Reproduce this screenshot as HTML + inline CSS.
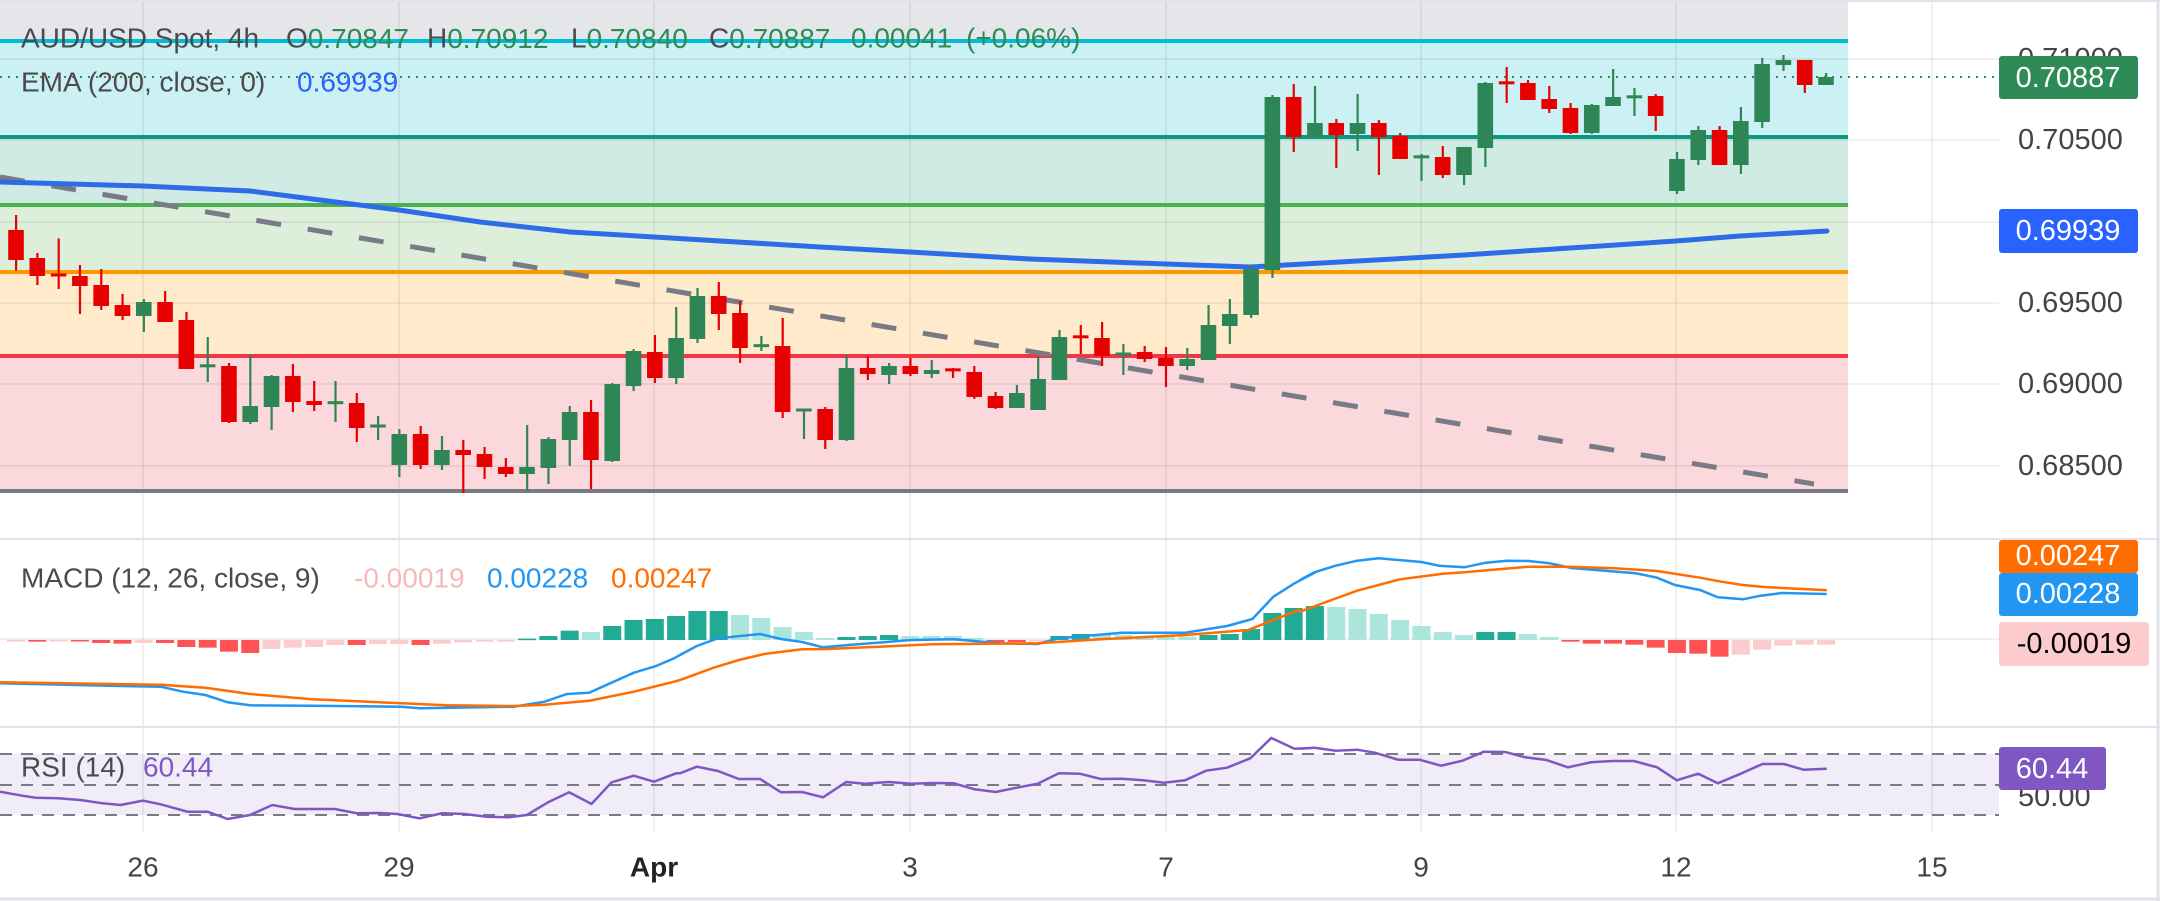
<!DOCTYPE html>
<html><head><meta charset="utf-8">
<style>
html,body{margin:0;padding:0;background:#fff;}
svg{display:block;}
text{font-family:"Liberation Sans",sans-serif;}
</style></head>
<body>
<svg id="c" width="2160" height="901" viewBox="0 0 2160 901" xmlns="http://www.w3.org/2000/svg">
<rect x="0" y="0" width="2160" height="901" fill="#fff"/>
<rect x="0" y="0" width="1848" height="41" fill="#e5e6e9"/>
<rect x="0" y="41" width="1848" height="96" fill="#ccf1f4"/>
<rect x="0" y="137" width="1848" height="68" fill="#d0ebe4"/>
<rect x="0" y="205" width="1848" height="67" fill="#ddefdb"/>
<rect x="0" y="272" width="1848" height="84" fill="#ffebcc"/>
<rect x="0" y="356" width="1848" height="135" fill="#fad8db"/>
<rect x="0" y="754" width="1999" height="61" fill="#f0ecf8"/>
<g id="grid" stroke="rgba(0,0,0,0.06)" stroke-width="2"></g>
<g stroke-width="4">
<line x1="0" y1="41" x2="1848" y2="41" stroke="#00bcd4"/>
<line x1="0" y1="137" x2="1848" y2="137" stroke="#089981"/>
<line x1="0" y1="205" x2="1848" y2="205" stroke="#4caf50"/>
<line x1="0" y1="272" x2="1848" y2="272" stroke="#ff9800"/>
<line x1="0" y1="356" x2="1848" y2="356" stroke="#f23645"/>
<line x1="0" y1="491" x2="1848" y2="491" stroke="#787b86"/>
</g>
<line x1="0" y1="539" x2="2160" y2="539" stroke="#e0e3eb" stroke-width="2"/>
<line x1="0" y1="727" x2="2160" y2="727" stroke="#e0e3eb" stroke-width="2"/>
<line x1="0" y1="899" x2="2160" y2="899" stroke="#e0e3eb" stroke-width="3"/>
<line x1="2158" y1="0" x2="2158" y2="901" stroke="#e0e3eb" stroke-width="3"/>
<line x1="0" y1="1" x2="2160" y2="1" stroke="#e0e3eb" stroke-width="2"/>
<line x1="0" y1="177" x2="1814" y2="484" stroke="#787b86" stroke-width="5" stroke-dasharray="25,27"/>
<polyline fill="none" stroke="#2e6be6" stroke-width="5" stroke-linecap="round" points="0,182 143,186 250,191 320,200 399,210 480,222 570,232 654,237 820,247 910,252 1030,259 1166,264 1250,267 1464,255 1676,241 1740,236 1827,231"/>
<line x1="0" y1="77" x2="1999" y2="77" stroke="#2e8b57" stroke-width="2" stroke-dasharray="2,6"/>
<g id="candles"></g>
<g id="hist"></g>
<polyline id="macdB" fill="none" stroke="#2196f3" stroke-width="2.5"/>
<polyline id="macdO" fill="none" stroke="#ff6d00" stroke-width="2.5"/>
<g stroke="#787b86" stroke-width="2" stroke-dasharray="12,9">
<line x1="0" y1="754" x2="1999" y2="754"/>
<line x1="0" y1="785" x2="1999" y2="785"/>
<line x1="0" y1="815" x2="1999" y2="815"/>
</g>
<polyline id="rsi" fill="none" stroke="#7e57c2" stroke-width="2.5"/>

<g font-size="28" dominant-baseline="central">
<text x="21" y="38" fill="#4a4a4f">AUD/USD Spot, 4h</text>
<text x="286" y="38" fill="#4a4a4f">O<tspan fill="#2e8b57">0.70847</tspan></text>
<text x="427" y="38" fill="#4a4a4f">H<tspan fill="#2e8b57">0.70912</tspan></text>
<text x="571" y="38" fill="#4a4a4f">L<tspan fill="#2e8b57">0.70840</tspan></text>
<text x="709" y="38" fill="#4a4a4f">C<tspan fill="#2e8b57">0.70887</tspan></text>
<text x="851" y="38" fill="#2e8b57">0.00041</text>
<text x="966" y="38" fill="#2e8b57">(+0.06%)</text>
<text x="21" y="82" fill="#4a4a4f">EMA (200, close, 0)</text>
<text x="297" y="82" fill="#2962ff">0.69939</text>
<text x="21" y="578" fill="#4a4a4f">MACD (12, 26, close, 9)</text>
<text x="354" y="578" fill="#f7b8bb">-0.00019</text>
<text x="487" y="578" fill="#2196f3">0.00228</text>
<text x="611" y="578" fill="#ff6d00">0.00247</text>
<text x="21" y="767" fill="#4a4a4f">RSI (14)</text>
<text x="143" y="767" fill="#7e57c2">60.44</text>
</g>
<g font-size="29" fill="#444" dominant-baseline="central">
<text x="2018" y="59">0.71000</text>
<text x="2018" y="140">0.70500</text>
<text x="2018" y="303">0.69500</text>
<text x="2018" y="384">0.69000</text>
<text x="2018" y="466">0.68500</text>
<text x="2018" y="797">50.00</text>
</g>
<g font-size="29" dominant-baseline="central">
<rect x="1999" y="56" width="139" height="43" rx="3" fill="#2e8b57"/>
<text x="2068" y="78" fill="#fff" text-anchor="middle">0.70887</text>
<rect x="1999" y="209" width="139" height="44" rx="3" fill="#2962ff"/>
<text x="2068" y="231" fill="#fff" text-anchor="middle">0.69939</text>
<rect x="1999" y="540" width="139" height="33" rx="3" fill="#ff6d00"/>
<text x="2068" y="556" fill="#fff" text-anchor="middle">0.00247</text>
<rect x="1999" y="573" width="139" height="43" rx="3" fill="#2196f3"/>
<text x="2068" y="594" fill="#fff" text-anchor="middle">0.00228</text>
<rect x="1999" y="622" width="150" height="44" rx="3" fill="#fccbcd"/>
<text x="2074" y="644" fill="#000" text-anchor="middle">-0.00019</text>
<rect x="1999" y="747" width="107" height="43" rx="3" fill="#7e57c2"/>
<text x="2052" y="769" fill="#fff" text-anchor="middle">60.44</text>
</g>
<g font-size="28" fill="#444" dominant-baseline="central" text-anchor="middle">
<text x="143" y="867">26</text>
<text x="399" y="867">29</text>
<text x="654" y="867" font-weight="bold" fill="#222">Apr</text>
<text x="910" y="867">3</text>
<text x="1166" y="867">7</text>
<text x="1421" y="867">9</text>
<text x="1676" y="867">12</text>
<text x="1932" y="867">15</text>
</g>
</svg>
<script>
var NS="http://www.w3.org/2000/svg";
function el(p,t,a){var e=document.createElementNS(NS,t);for(var k in a)e.setAttribute(k,a[k]);p.appendChild(e);return e;}
var g=document.getElementById('grid');
[143,399,654,910,1166,1421,1676,1932].forEach(function(x){el(g,'line',{x1:x,y1:0,x2:x,y2:832});});
[59,140,222,303,384,466].forEach(function(y){el(g,'line',{x1:0,y1:y,x2:1999,y2:y});});
el(g,'line',{x1:0,y1:639,x2:1999,y2:639});
function X(i){return 16+21.294*i;}
var A=[[0,150,240,105,272],[0,234,288,219,315],[0,283,287,175,327],[0,288,318,255,402],[0,315,378,267,390],[0,375,408,342,420],[1,366,408,357,456],[0,366,426,333,426],[0,420,567,396,567],[1,555,560,471,606],
[0,558,726,549,729],[1,678,726,522,732],[1,588,681,585,750],[0,588,666,552,696],[0,663,675,603,693],[1,666,670,603,726],[0,669,744,639,786],[1,736,740,708,780],[1,762,855,747,891],[0,762,855,738,867],
[1,810,855,768,870],[0,810,825,780,939],[0,822,861,801,897],[0,861,882,834,891],[1,861,882,735,933],[1,777,864,771,912],[1,696,780,678,858],[0,696,840,660,927],[1,612,843,609,846],[1,513,618,507,633],
[0,516,594,465,609],[1,474,594,381,612],[1,348,477,324,489],[0,348,402,306,450],[0,399,504,363,549],[1,495,499,468,513],[0,498,696,414,714],[1,687,693,687,777],[0,687,780,681,807],[1,564,780,525,783],
[0,564,582,528,600],[1,558,585,549,612],[0,558,582,534,588],[1,570,582,540,594],[0,567,572,564,594],[0,576,651,558,657],[0,648,684,636,687],[1,639,684,615,684],[1,597,690,531,690],[1,471,600,450,600],
[0,468,473,435,522],[0,474,528,426,558],[1,519,525,492,585],[0,516,537,498,546],[0,534,558,501,621],[1,537,558,504,570],[1,435,540,375,540],[1,402,438,357,492],[1,267,405,255,414]];
var B=[[1,141,660,135,684],[0,141,261,102,306],[1,219,261,108,261],[0,219,255,207,354],[1,219,252,132,303],[0,219,261,210,375],[0,258,327,249,327],[1,318,323,312,393],[0,321,375,288,384],[1,291,375,291,405],
[1,99,294,96,351],[0,96,101,51,159],[0,99,150,90,150],[0,147,177,108,189],[0,174,249,159,252],[1,165,249,162,252],[1,141,168,57,168],[1,138,143,114,198],[0,138,198,132,243],[1,327,423,306,432],
[1,240,330,228,345],[0,240,345,228,345],[1,213,345,171,372],[1,42,216,24,234],[1,30,45,15,63],[0,30,105,30,129],[1,81,105,69,105]];
var cg=document.getElementById('candles');
function drawC(arr,start,off){arr.forEach(function(c,k){var i=start+k,x=X(i),col=c[0]?'#2e8555':'#e60000';
var bt=off+c[1]/3,bb=off+c[2]/3;if(bb-bt<2.5){var m=(bt+bb)/2;bt=m-1.5;bb=m+1.5;}
el(cg,'rect',{x:x-1,y:off+c[3]/3,width:2.2,height:(c[4]-c[3])/3,fill:col});
el(cg,'rect',{x:x-7.8,y:bt,width:15.6,height:bb-bt,fill:col});});}
drawC(A,0,180);drawC(B,59,50);
var H=[['r',305],['R',305],['r',303],['R',303],['R',309],['R',311],['r',309],['R',309],['R',321],['R',323],['R',335],['R',339],['r',327],['r',323],['r',321],['r',315],['R',315],['r',312],['r',312],['R',315],['r',311],['r',307],['r',305],['r',305],
['G',296],['G',288],['G',272],['g',276],['G',258],['G',240],['G',237],['G',228],['G',213],['G',213],['g',225],['g',234],['g',261],['g',276],['g',294],['G',291],['G',288],['G',285],['g',288],['g',288],['g',288],['g',294],
['R',306],['R',306],['r',302],['G',288],['G',282],['g',285],['g',285],['g',290],['g',290],['g',290],['G',285],['G',282],['G',267],['G',219],['G',204],['G',198],['g',201],['g',207],['g',222],['g',240],['g',258],['g',276],['g',285],
['G',276],['G',276],['g',282],['g',291],['R',305],['R',311],['R',311],['R',314],['R',323],['R',339],['R',341],['R',350],['r',344],['r',329],['r',317],['r',314],['r',314]];
var cols={G:'#22ab94',g:'#ace5dc',R:'#ff5252',r:'#fccbcd'};
var hg=document.getElementById('hist');
H.forEach(function(h,i){var x=X(i),y=540+h[1]/3,z=640;var t=Math.min(y,z),b=Math.max(y,z);if(b-t<1.5)b=t+1.5;
el(hg,'rect',{x:x-9,y:t,width:18,height:b-t,fill:cols[h[0]]});});
function pts(list){return list.map(function(p){return p.join(',');}).join(' ');}
function conv(segs){var out=[];segs.forEach(function(s){var off=s[0],sc=s[1];s[2].forEach(function(p){out.push([(off+p[0]/sc).toFixed(1),(540+p[1]/3).toFixed(1)]);});});return pts(out);}
document.getElementById('macdB').setAttribute('points',conv([
[0,2.24,[[0,430],[270,438],[360,440],[410,455],[460,465],[510,487],[560,496],[700,497],[900,500],[940,505],[1150,500],[1220,485],[1270,462],[1320,458],[1420,398],[1470,378],[1510,355]]],
[680,2.376,[[0,345],[40,318],[90,295],[190,282],[240,297],[290,306],[340,322],[400,315],[550,300],[650,298],[760,310],[850,312],[900,295],[1050,278],[1200,278],[1300,258],[1360,237],[1410,170],[1460,130],[1510,97]]],
[1300,2.8,[[0,120],[40,97],[100,77],[160,62],[220,55],[340,66],[390,77],[460,82],[520,68],[580,62],[640,63],[700,70],[760,84],[940,100],[1000,113],[1050,135],[1120,150],[1170,172],[1240,178],[1290,167],[1350,159],[1475,162]]]]));
document.getElementById('macdO').setAttribute('points',conv([
[0,2.24,[[0,427],[360,434],[460,443],[560,462],[700,478],[900,490],[1000,496],[1150,498],[1220,494],[1320,482],[1420,455],[1510,425]]],
[680,2.376,[[0,420],[80,383],[140,360],[200,342],[290,328],[350,327],[600,313],[850,310],[1000,298],[1200,285],[1350,270],[1400,245],[1470,210]]],
[1300,2.8,[[0,215],[50,195],[160,152],[280,118],[400,101],[460,97],[640,80],[750,80],[880,85],[1000,93],[1120,113],[1180,125],[1240,135],[1300,141],[1475,151]]]]));
document.getElementById('rsi').setAttribute('points',conv([
[0,2.24,[[0,755],[50,767],[80,773],[130,775],[180,780],[230,790],[270,795],[320,782],[360,793],[420,815],[465,815],[510,837],[560,825],[610,795],[660,807],[750,807],[800,820],[850,819],[890,822],[940,835],[990,820],[1040,822],[1090,830],[1140,832],[1180,825],[1230,785],[1275,757],[1325,792],[1370,727],[1420,707],[1465,725],[1515,700]]],
[680,2.376,[[0,700],[40,680],[90,693],[140,717],[190,717],[240,757],[290,756],[340,772],[395,726],[440,731],[495,726],[550,731],[600,729],[650,730],[700,748],[750,756],[800,743],[850,731],[900,700],[950,701],[1000,717],[1050,716],[1100,721],[1150,728],[1200,721],[1250,692],[1300,683],[1355,655],[1405,594],[1460,626],[1510,623]]],
[1300,2.8,[[0,626],[40,623],[100,632],[160,629],[210,638],[275,659],[335,659],[395,677],[455,662],[515,635],[575,636],[630,652],[690,660],[750,682],[815,667],[875,663],[935,663],[1000,682],[1055,721],[1115,701],[1170,730],[1230,703],[1295,672],[1355,672],[1410,689],[1475,686]]]]));
</script>
</body></html>
